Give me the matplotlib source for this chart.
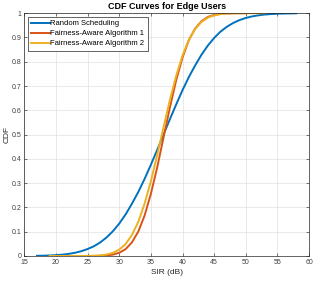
import matplotlib
matplotlib.use("Agg")
import matplotlib.pyplot as plt

plt.rcParams["font.family"] = ["Liberation Sans", "DejaVu Sans"]

# SIR values (dB) and CDF values
sir_random = list(range(17, 59))
cdf_random = [0.0008, 0.0013, 0.0021, 0.0035, 0.0055, 0.0087, 0.0132, 0.0197, 0.0287, 0.0401,
              0.0559, 0.0764, 0.102, 0.1335, 0.171, 0.215, 0.263, 0.317, 0.376, 0.437,
              0.5, 0.563, 0.624, 0.683, 0.737, 0.785, 0.829, 0.8665, 0.898, 0.924,
              0.944, 0.9596, 0.9716, 0.9804, 0.9868, 0.9913, 0.9945, 0.9965, 0.9979, 0.9987,
              0.9992, 0.9996]

sir_alg1 = list(range(21, 51))
cdf_alg1 = [0.0, 0.0, 0.0, 0.00002, 0.0001, 0.0003, 0.0008, 0.0023, 0.0057, 0.0132,
            0.0281, 0.0559, 0.100, 0.166, 0.256, 0.365, 0.488, 0.611, 0.724, 0.8175,
            0.889, 0.937, 0.967, 0.9846, 0.9932, 0.9973, 0.999, 0.9997, 0.9999, 1.0]

sir_alg2 = list(range(19, 54))
cdf_alg2 = [0.0, 0.0, 0.0, 0.00001, 0.00004, 0.0001, 0.0004, 0.001, 0.0025, 0.0059,
            0.0129, 0.0262, 0.049, 0.086, 0.140, 0.215, 0.308, 0.416, 0.530, 0.642,
            0.742, 0.826, 0.890, 0.935, 0.964, 0.9817, 0.9913, 0.9962, 0.9985, 0.9994,
            0.9998, 0.9999, 1.0, 1.0, 1.0]

labels = ["Random Scheduling", "Fairness-Aware Algorithm 1", "Fairness-Aware Algorithm 2"]
colors = ["#0072BD", "#D95319", "#EDB120"]

fig = plt.figure(figsize=(3.16, 2.81), dpi=100)
ax = fig.add_axes([0.077, 0.089, 0.901, 0.864])

ax.plot(sir_random, cdf_random, color=colors[0], linewidth=1.4, label=labels[0])
ax.plot(sir_alg1, cdf_alg1, color=colors[1], linewidth=1.4, label=labels[1])
ax.plot(sir_alg2, cdf_alg2, color=colors[2], linewidth=1.4, label=labels[2])

ax.set_xlim(15, 60)
ax.set_ylim(0, 1)
ax.set_xticks(range(15, 61, 5))
ax.set_yticks([i / 10 for i in range(11)])
ax.set_yticklabels(["0", "0.1", "0.2", "0.3", "0.4", "0.5", "0.6", "0.7", "0.8", "0.9", "1"])
ax.tick_params(direction="in", length=2.5, width=0.5, labelsize=5, colors="#404040", pad=2)
ax.tick_params(top=True, right=True)
for s in ax.spines.values():
    s.set_linewidth(0.5)
    s.set_color("#262626")
ax.grid(True, color="#e0e0e0", linewidth=0.5)
ax.set_axisbelow(True)

ax.set_title("CDF Curves for Edge Users", fontsize=6.5, fontweight="bold", pad=3)
ax.set_xlabel("SIR (dB)", fontsize=6, labelpad=2, color="#262626")
ax.set_ylabel("CDF", fontsize=6, labelpad=1, color="#262626")

leg = ax.legend(loc="upper left", fontsize=5.5, handlelength=2.4, handletextpad=0.1,
                borderpad=0.45, labelspacing=0.35, fancybox=False, framealpha=1,
                borderaxespad=0.45)
leg.get_frame().set_edgecolor("#262626")
leg.get_frame().set_linewidth(0.5)

fig.savefig("out.png", dpi=100)
